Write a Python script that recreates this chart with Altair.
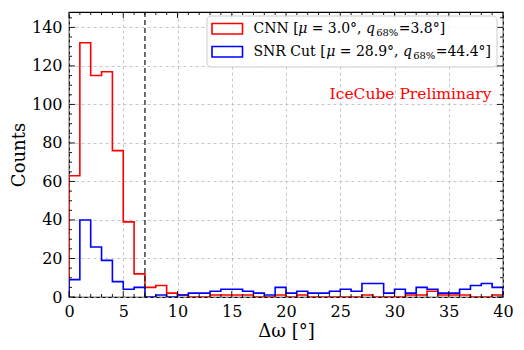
import altair as alt
import pandas as pd

# Histogram counts per 1-degree bin, 0..40
edges = list(range(41))
cnn_counts = [63, 132, 115, 117, 76, 39, 12, 5, 6, 2,
              1, 0, 0, 1, 1, 1, 1, 0, 0, 1,
              0, 1, 0, 0, 0, 0, 0, 1, 0, 0,
              0, 1, 1, 3, 1, 1, 1, 0, 0, 1]
snr_counts = [9, 40, 26, 19, 8, 4, 5, 0, 1, 0,
              1, 2, 2, 3, 4, 4, 3, 2, 1, 5,
              2, 3, 2, 2, 3, 4, 3, 7, 7, 2,
              4, 2, 5, 4, 2, 2, 4, 6, 7, 5]
series_names = ["CNN", "SNR Cut"]
series_colors = ["#ff0000", "#0000ff"]
cut_value = [7]

x_major = [0, 5, 10, 15, 20, 25, 30, 35, 40]
y_major = [0, 20, 40, 60, 80, 100, 120, 140]
x_minor = [v for v in range(0, 41) if v % 5 != 0]
y_minor = [v for v in range(0, 148, 5) if v % 20 != 0]

W, H = 434, 285
FONT = "DejaVu Serif"

rows = []
for name, counts in zip(series_names, [cnn_counts, snr_counts]):
    pts = [(0, 0)] + [(edges[i], counts[i]) for i in range(len(counts))] + [(40, counts[-1]), (40, 0)]
    for k, (xv, yv) in enumerate(pts):
        rows.append({"x": xv, "count": yv, "series": name, "order": k})
df = pd.DataFrame(rows)

xs = alt.Scale(domain=[0, 40], nice=False, zero=False)
ys = alt.Scale(domain=[0, 148], nice=False)

base_axis = dict(labelFont=FONT, titleFont=FONT, labelFontSize=16, titleFontSize=18,
                 labelColor="black", titleColor="black", ticks=False, domain=False,
                 grid=True, gridColor="#b8b8b8", gridDash=[3, 3], gridWidth=0.8,
                 titleFontWeight="normal", labelFlush=False, labelOverlap=False)

lines = alt.Chart(df).mark_line(interpolate="step-after", strokeWidth=1.6, clip=True).encode(
    x=alt.X("x:Q", scale=xs, axis=alt.Axis(values=x_major, title="Δω [°]", labelPadding=6,
                                            titleY=39, titleBaseline="alphabetic", **base_axis)),
    y=alt.Y("count:Q", scale=ys, axis=alt.Axis(values=y_major, title="Counts", labelPadding=7,
                                                titleX=-50, titleY=H / 2, titleAngle=270,
                                                titleAlign="center", titleBaseline="middle", **base_axis)),
    color=alt.Color("series:N", scale=alt.Scale(domain=series_names, range=series_colors), legend=None),
    order="order:Q",
)

cut = alt.Chart(pd.DataFrame({"v": cut_value})).mark_rule(
    color="#222222", strokeDash=[5, 3], strokeWidth=1.3).encode(x=alt.X("v:Q", scale=xs))


def xticks(vals, L):
    d = pd.DataFrame({"v": vals})
    b = alt.Chart(d).mark_rule(color="black", strokeWidth=0.9)
    return [b.encode(x=alt.X("v:Q", scale=xs), y=alt.value(H), y2=alt.value(H - L)),
            b.encode(x=alt.X("v:Q", scale=xs), y=alt.value(0), y2=alt.value(L))]


def yticks(vals, L):
    d = pd.DataFrame({"v": vals})
    b = alt.Chart(d).mark_rule(color="black", strokeWidth=0.9)
    return [b.encode(y=alt.Y("v:Q", scale=ys), x=alt.value(0), x2=alt.value(L)),
            b.encode(y=alt.Y("v:Q", scale=ys), x=alt.value(W), x2=alt.value(W - L))]


ticks = xticks(x_major, 6) + xticks(x_minor, 3) + yticks(y_major, 6) + yticks(y_minor, 3)

# Legend (drawn in pixel space of the plot area)
leg_box = alt.Chart(pd.DataFrame({"a": [0]})).mark_rect(
    fill="white", fillOpacity=0.85, stroke="#cccccc", strokeWidth=1, cornerRadius=4).encode(
    x=alt.value(138), x2=alt.value(428), y=alt.value(4), y2=alt.value(55))

patches = []
for yy, col in [(11.5, series_colors[0]), (34.5, series_colors[1])]:
    patches.append(alt.Chart(pd.DataFrame({"a": [0]})).mark_rect(
        fill=None, stroke=col, strokeWidth=1.6).encode(
        x=alt.value(143), x2=alt.value(173.5), y=alt.value(yy), y2=alt.value(yy + 10.5)))

# approximate DejaVu Serif advance widths (units of 1/2048 em)
ADV = {" ": 651, "=": 1716, ".": 651, ",": 651, "°": 1024, "[": 799, "]": 799, "%": 1946,
       "C": 1499, "N": 1669, "S": 1411, "R": 1577, "u": 1313, "t": 825, "q": 1300, "μ": 1300}


def tw(s, fs):
    return sum(ADV.get(c, 1303) for c in s) / 2048.0 * fs


leg_size = 14
sub_size = 10
row_defs = [
    (17, ["CNN [", "μ", "= 3.0°,", "q", "68%", "=3.8°]"]),
    (40, ["SNR Cut [", "μ", "= 28.9°,", "q", "68%", "=44.4°]"]),
]
gaps = [1.8, 4.5, 4.5, 1.2, 0.3, 0]
texts = []
for py, parts in row_defs:
    px = 184.5
    for i, t in enumerate(parts):
        fs = sub_size if i == 4 else leg_size
        style = "italic" if i in (1, 3) else "normal"
        dy = 3.5 if i == 4 else 0
        texts.append(alt.Chart(pd.DataFrame({"t": [t]})).mark_text(
            align="left", baseline="middle", font=FONT, fontSize=fs, fontStyle=style, dy=dy,
            color="black").encode(text="t:N", x=alt.value(px), y=alt.value(py)))
        px += tw(t, fs) + gaps[i]

label = alt.Chart(pd.DataFrame({"t": ["IceCube Preliminary"]})).mark_text(
    align="center", baseline="middle", font=FONT, fontSize=15.5, color="#ff0000").encode(
    text="t:N", x=alt.value(341.5), y=alt.value(82))

chart = alt.layer(lines, cut, *ticks, leg_box, *patches, *texts, label).properties(
    width=W, height=H,
    autosize=alt.AutoSizeParams(type="none"),
    padding={"left": 61, "top": 4, "right": 13, "bottom": 45},
).configure(font=FONT).configure_view(stroke="black", strokeWidth=1.2)

chart.save("out.html", embed_options={"renderer": "svg", "actions": False})
